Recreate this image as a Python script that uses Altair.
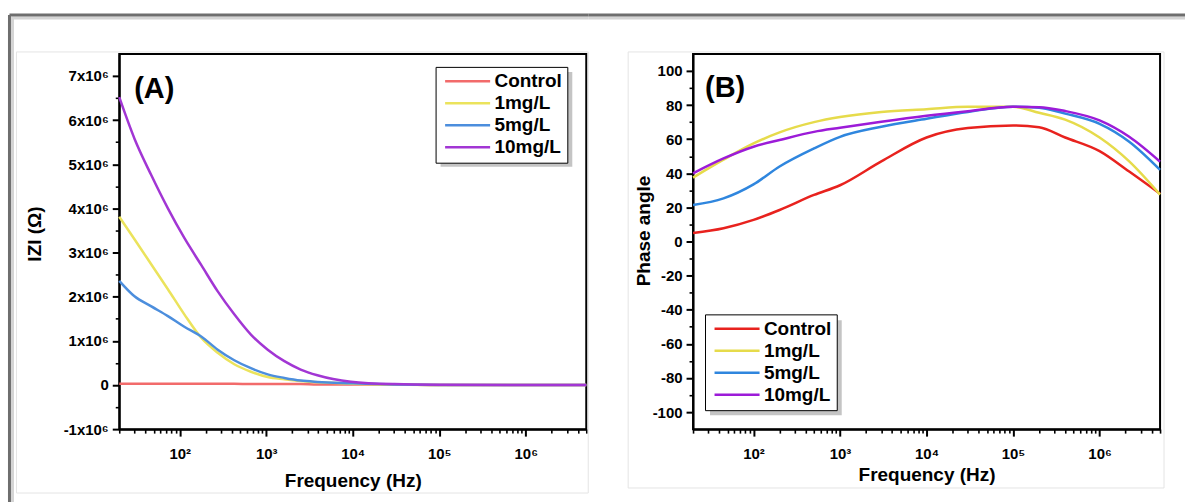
import altair as alt
import pandas as pd

series = ["Control", "1mg/L", "5mg/L", "10mg/L"]
colors_a = ["#F26B6B", "#EBE35C", "#4C8EDD", "#A236D4"]
colors_b = ["#E8221E", "#E6DB4B", "#2F86DE", "#9C1BD8"]

# Panel A: |Z| (in units of 1e6 ohm)
freq_a = [20, 30, 47, 73, 113, 177, 275, 427, 665, 1040, 1620, 2500, 3900, 9500, 30000, 100000, 1000000, 5000000]
z_control = [0.03, 0.03, 0.03, 0.03, 0.03, 0.03, 0.03, 0.03, 0.02, 0.02, 0.02, 0.02, 0.01, 0.01, 0.01, 0.0, 0.0, 0.0]
z_1mg = [3.81, 3.30, 2.73, 2.17, 1.60, 1.07, 0.73, 0.47, 0.30, 0.18, 0.13, 0.09, 0.06, 0.03, 0.01, 0.0, 0.0, 0.0]
z_5mg = [2.36, 2.01, 1.78, 1.56, 1.32, 1.10, 0.80, 0.56, 0.38, 0.24, 0.16, 0.10, 0.07, 0.04, 0.01, 0.0, 0.0, 0.0]
z_10mg = [6.52, 5.58, 4.75, 4.00, 3.33, 2.72, 2.12, 1.60, 1.14, 0.80, 0.54, 0.35, 0.22, 0.075, 0.02, 0.005, 0.0, 0.0]

# Panel B: phase angle
freq_b = [20, 45, 100, 200, 500, 1000, 3000, 10000, 30000, 100000, 200000, 400000, 1000000, 2200000, 5000000]
p_control = [5, 7.8, 12.7, 18.5, 27.3, 33, 47, 61, 66.5, 68, 67, 61, 53, 41, 28]
p_1mg = [37.5, 48, 57.5, 64, 70, 73, 76, 77.6, 79, 79, 75.5, 71.5, 61, 47, 27.5]
p_5mg = [21.4, 25.3, 33.5, 44, 54.6, 61.4, 67.3, 72, 76, 79, 78.5, 75, 69, 58.5, 42]
p_10mg = [40, 48.7, 55.6, 59.5, 64.3, 66.7, 70.2, 73.7, 76.4, 79, 78.8, 76.5, 71, 61.4, 46.8]

x_ticks = [d * k for d in [10, 100, 1000, 10000, 100000, 1000000] for k in range(1, 10) if 20 <= d * k <= 5000000]
y_ticks_a = list(range(-1000000, 7000001, 500000))
y_ticks_b = list(range(-100, 101, 10))

FONT = "Liberation Sans"


def long_df(freqs, cols, scale):
    rows = []
    for name, vals in zip(series, cols):
        for f, v in zip(freqs, vals):
            rows.append({"f": f, "v": v * scale, "s": name})
    return pd.DataFrame(rows)


df_a = long_df(freq_a, [z_control, z_1mg, z_5mg, z_10mg], 1000000)
df_b = long_df(freq_b, [p_control, p_1mg, p_5mg, p_10mg], 1)

major_x = "indexof([100, 1000, 10000, 100000, 1000000], datum.value) >= 0"
x_label = ("datum.value == 100 ? '10²' : datum.value == 1000 ? '10³' : datum.value == 10000 ? '10⁴' : "
           "datum.value == 100000 ? '10⁵' : datum.value == 1000000 ? '10⁶' : ''")


def x_axis(title_y):
    return alt.Axis(values=x_ticks, labelExpr=x_label, title="Frequency (Hz)",
                    titleY=title_y, titleBaseline="middle",
                    tickSize={"condition": {"test": major_x, "value": 7}, "value": 4},
                    tickWidth={"condition": {"test": major_x, "value": 2}, "value": 1.6},
                    labelOverlap=False, labelFlush=False, labelPadding=10, grid=False)


def y_axis(title, values, major, label, title_x, title_y):
    return alt.Axis(values=values, labelExpr=label, title=title,
                    titleX=title_x, titleY=title_y, titleBaseline="middle", titleAlign="center", titleAngle=270,
                    tickSize={"condition": {"test": major, "value": 7}, "value": 4},
                    tickWidth={"condition": {"test": major, "value": 2}, "value": 1.6},
                    labelOverlap=False, labelFlush=False, labelPadding=4, grid=False)


def legend(x, y):
    return alt.Legend(title=None, orient="none", legendX=x, legendY=y,
                      symbolType="M-0.9,0H7.3", symbolSize=121, symbolStrokeWidth=2.5,
                      labelFont=FONT, labelFontSize=19, labelFontWeight="bold", labelColor="black",
                      labelOffset=35, strokeColor="black", fillColor="white", padding=5, rowPadding=2)


one = pd.DataFrame({"k": [0]})


def rect(x, x2, y, y2, **kw):
    return alt.Chart(one).mark_rect(**kw).encode(x=alt.value(x), x2=alt.value(x2), y=alt.value(y), y2=alt.value(y2))


def rule(x, x2, y, y2, **kw):
    return alt.Chart(one).mark_rule(**kw).encode(x=alt.value(x), x2=alt.value(x2), y=alt.value(y), y2=alt.value(y2))


def panel_label(text, x, y):
    return alt.Chart(pd.DataFrame({"t": [text]})).mark_text(
        align="left", baseline="alphabetic", fontSize=29, fontWeight="bold", font=FONT, color="black"
    ).encode(x=alt.value(x), y=alt.value(y), text="t:N")


lines_a = alt.Chart(df_a).mark_line(strokeWidth=2.5, interpolate="monotone").encode(
    x=alt.X("f:Q", scale=alt.Scale(type="log", domain=[20, 5000000], nice=False), axis=x_axis(51)),
    y=alt.Y("v:Q", scale=alt.Scale(domain=[-1000000, 7500000], nice=False, zero=False),
            axis=y_axis("IZI (Ω)", y_ticks_a, "datum.value % 1000000 == 0",
                        "datum.value == 0 ? '0' : (datum.value % 1000000 == 0 ? (datum.value / 1000000) + 'x10⁶' : '')",
                        -85, 180)),
    color=alt.Color("s:N", scale=alt.Scale(domain=series, range=colors_a), legend=legend(317, 13)),
)

chart_a = alt.layer(
    rect(-103, 470, -2, 440, fillOpacity=0, stroke="#e4e4e4", strokeWidth=1),
    rule(-107, -107, -37, 449, color="#d4d4d4", strokeWidth=3),
    rule(-108, 470, -36, -36, color="#d4d4d4", strokeWidth=3),
    rule(-110, -110, -39, 449, color="#6e6e6e", strokeWidth=3),
    rule(-110, 470, -39, -39, color="#6e6e6e", strokeWidth=3),
    rect(322, 454, 18, 113, color="#c4c4c4"),
    lines_a,
    panel_label("(A)", 15, 44),
).properties(width=468, height=376)

lines_b = alt.Chart(df_b).mark_line(strokeWidth=2.5, interpolate="monotone").encode(
    x=alt.X("f:Q", scale=alt.Scale(type="log", domain=[20, 5000000], nice=False), axis=x_axis(45)),
    y=alt.Y("v:Q", scale=alt.Scale(domain=[-110, 110], nice=False, zero=False),
            axis=y_axis("Phase angle", y_ticks_b, "datum.value % 20 == 0",
                        "datum.value % 20 == 0 ? '' + datum.value : ''", -50, 177)),
    color=alt.Color("s:N", scale=alt.Scale(domain=series, range=colors_b), legend=legend(12, 261)),
)

chart_b = alt.layer(
    rect(-65, 472, -2, 435, fillOpacity=0, stroke="#e4e4e4", strokeWidth=1),
    rule(-105, 493, -36, -36, color="#d4d4d4", strokeWidth=3),
    rule(-105, 493, -39, -39, color="#6e6e6e", strokeWidth=3),
    rect(17, 149, 267, 362, color="#c4c4c4"),
    lines_b,
    panel_label("(B)", 12, 43),
).properties(width=468, height=376)

chart = alt.hconcat(chart_a, chart_b, spacing=107, bounds="flush").resolve_scale(
    color="independent"
).properties(
    padding={"left": 6.5, "top": 11.5, "right": 0, "bottom": 0}, background="white"
).configure_view(
    stroke="black", strokeWidth=2
).configure_axis(
    labelFont=FONT, labelFontSize=15, labelFontWeight="bold", labelColor="black",
    titleFont=FONT, titleFontSize=19, titleFontWeight="bold", titleColor="black",
    domainColor="black", domainWidth=2, tickColor="black"
)

chart.save("out.html", embed_options={"renderer": "svg", "actions": False})
